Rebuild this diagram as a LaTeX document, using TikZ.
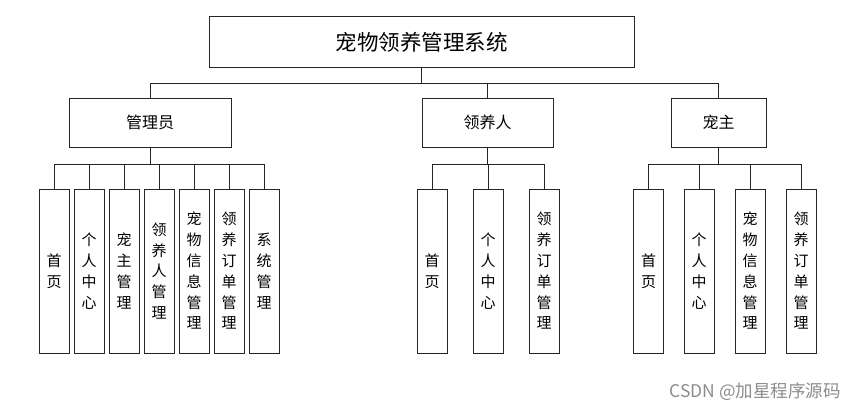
\documentclass[tikz,border=0pt]{standalone}
\usepackage{fontspec}
\setmainfont{Noto Sans CJK SC}
\begin{document}
\begin{tikzpicture}[x=1pt,y=-1pt,
  box/.style={draw=black!85, line width=1pt, inner sep=0pt, align=center, fill=white},
  leaf/.style={box, minimum width=30pt, minimum height=164pt, font=\fontsize{15}{20.8}\selectfont},
  mid/.style={box, minimum height=49pt, font=\fontsize{16}{18}\selectfont},
  wire/.style={draw=black!85, line width=1pt}]
\useasboundingbox (0,0) rectangle (866,412);
% top
\node[box, minimum width=425pt, minimum height=50pt, font=\fontsize{21.5}{23}\selectfont] (sys) at (421.5,42) {宠物领养管理系统};
% level 2
\node[mid, minimum width=162pt] (adm) at (150,122.5) {管理员};
\node[mid, minimum width=131pt] (adp) at (487.5,122.5) {领养人};
\node[mid, minimum width=95pt] (own) at (718.5,122.5) {宠主};
% leaves of adm
\node[leaf] (a1) at (54,271) {首\\页};
\node[leaf] (a2) at (89,271) {个\\人\\中\\心};
\node[leaf] (a3) at (124,271) {宠\\主\\管\\理};
\node[leaf] (a4) at (159,271) {领\\养\\人\\管\\理};
\node[leaf] (a5) at (194,271) {宠\\物\\信\\息\\管\\理};
\node[leaf] (a6) at (229,271) {领\\养\\订\\单\\管\\理};
\node[leaf] (a7) at (264,271) {系\\统\\管\\理};
% leaves of adp
\node[leaf] (p1) at (432,271) {首\\页};
\node[leaf] (p2) at (488,271) {个\\人\\中\\心};
\node[leaf] (p3) at (544,271) {领\\养\\订\\单\\管\\理};
% leaves of own
\node[leaf] (o1) at (648.5,271) {首\\页};
\node[leaf] (o2) at (699,271) {个\\人\\中\\心};
\node[leaf] (o3) at (750,271) {宠\\物\\信\\息\\管\\理};
\node[leaf] (o4) at (801,271) {领\\养\\订\\单\\管\\理};
% buses
\coordinate (b0) at (sys.south |- 0,83);
\coordinate (ba) at (adm.south |- 0,164);
\coordinate (bp) at (adp.south |- 0,164);
\coordinate (bo) at (own.south |- 0,164);
\draw[wire] (sys.south) -- (b0);
\draw[wire] (b0) -| (adm.north);
\draw[wire] (b0) -| (adp.north);
\draw[wire] (b0) -| (own.north);
\draw[wire] (adm.south) -- (ba);
\foreach \n in {a1,a2,a3,a4,a5,a6,a7} \draw[wire] (ba) -| (\n.north);
\draw[wire] (adp.south) -- (bp);
\foreach \n in {p1,p2,p3} \draw[wire] (bp) -| (\n.north);
\draw[wire] (own.south) -- (bo);
\foreach \n in {o1,o2,o3,o4} \draw[wire] (bo) -| (\n.north);
% watermark
\node[text=black!45, font=\fontsize{17.5}{19}\selectfont, inner sep=0pt] (wm) at (755,392) {CSDN @加星程序源码};
\end{tikzpicture}
\end{document}
